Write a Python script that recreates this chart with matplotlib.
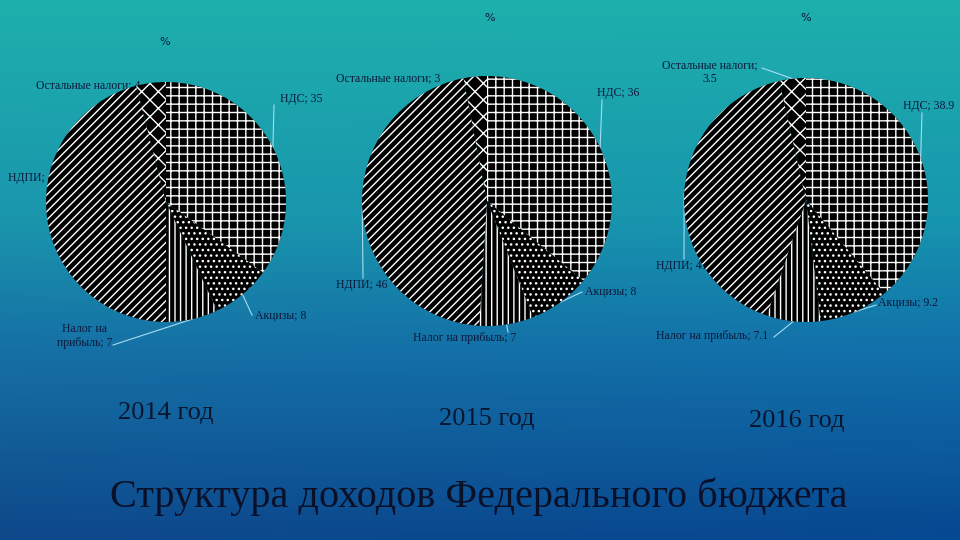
import numpy as np
import matplotlib
matplotlib.use("Agg")
import matplotlib.pyplot as plt

plt.rcParams['font.family'] = ['Liberation Serif', 'DejaVu Serif']
plt.rcParams['hatch.linewidth'] = 1.0

# data
categories = ['НДС', 'Акцизы', 'Налог на прибыль', 'НДПИ', 'Остальные налоги']
years = ['2014 год', '2015 год', '2016 год']
values_2014 = [35, 8, 7, 46, 4]
values_2015 = [36, 8, 7, 46, 3]
values_2016 = [38.9, 9.2, 7.1, 41.3, 3.5]
hatches = ['++', '...', '|||', '////', 'xx']

W, H = 960, 540
fig = plt.figure(figsize=(9.6, 5.4), dpi=100)

# background gradient, pixel coords
bg = fig.add_axes([0, 0, 1, 1])
bg.set_xlim(0, W)
bg.set_ylim(H, 0)
bg.axis('off')
yy = np.linspace(0, 1, 270)[:, None]
xx = np.linspace(0, 1, 480)[None, :]
stops = np.array([0.0, 0.4, 0.65, 1.0])
cols = np.array([[30, 176, 172], [26, 150, 172], [22, 112, 165], [14, 72, 138]]) / 255.0
img = np.zeros((270, 480, 3))
for c in range(3):
    img[:, :, c] = np.interp(yy.ravel(), stops, cols[:, c])[:, None]
img[:, :, 0] -= 0.03 * xx * yy
img[:, :, 2] += 0.03 * xx * yy
bg.imshow(np.clip(img, 0, 1), extent=[0, W, H, 0], aspect='auto', zorder=0)

label_color = '#0b1a3c'
line_color = '#a8dcef'

# pie placement (center x, center y, radius) in pixels
pies = [
    (values_2014, 166, 202, 120),
    (values_2015, 487, 201, 125),
    (values_2016, 806, 200, 122),
]

# label layout per pie: text position, alignment, leader start (or None)
layouts = [
    [('НДС; 35', 280, 99, 'left', (274, 105)),
     ('Акцизы; 8', 255, 316, 'left', (252, 315)),
     ('Налог на\nприбыль; 7', 85, 336, 'center', (113, 345)),
     ('НДПИ; 46', 8, 178, 'left', None),
     ('Остальные налоги; 4', 140, 85, 'right', None)],
    [('НДС; 36', 597, 93, 'left', (602, 100)),
     ('Акцизы; 8', 585, 292, 'left', (582, 292)),
     ('Налог на прибыль; 7', 465, 338, 'center', (508, 332)),
     ('НДПИ; 46', 336, 285, 'left', (363, 278)),
     ('Остальные налоги; 3', 440, 78, 'right', None)],
    [('НДС; 38.9', 903, 106, 'left', (922, 113)),
     ('Акцизы; 9.2', 878, 303, 'left', (876, 305)),
     ('Налог на прибыль; 7.1', 656, 336, 'left', (774, 337)),
     ('НДПИ; 41.3', 656, 266, 'left', (684, 259)),
     ('Остальные налоги;\n3.5', 710, 72, 'center', (762, 68))],
]

for (vals, cx, cy, r), lay in zip(pies, layouts):
    ax = fig.add_axes([(cx - r) / W, 1 - (cy + r) / H, 2 * r / W, 2 * r / H])
    ax.set_zorder(2)
    wedges, _ = ax.pie(vals, startangle=90, counterclock=False, radius=1,
                       colors=['black'] * len(vals),
                       wedgeprops=dict(edgecolor='white', linewidth=0))
    for w, h in zip(wedges, hatches):
        w.set_hatch(h)
    ax.set_xlim(-1, 1)
    ax.set_ylim(-1, 1)
    ax.set_aspect('auto')
    ax.axis('off')

    total = sum(vals)
    cum = np.cumsum([0] + vals[:-1])
    for v, c0, (txt, tx, ty, ha, start) in zip(vals, cum, lay):
        ang = np.radians((c0 + v / 2) / total * 360)
        ex, ey = cx + r * np.sin(ang), cy - r * np.cos(ang)
        if start is not None:
            bg.plot([start[0], ex], [start[1], ey], color=line_color, lw=0.8, zorder=1)
        bg.text(tx, ty, txt, ha=ha, va='center', fontsize=8.5, color=label_color,
                zorder=1, linespacing=1.2)

# small "%" titles
for x, y in [(165, 42), (490, 18), (806, 18)]:
    bg.text(x, y, '%', ha='center', va='center', fontsize=8, color=label_color,
            family='DejaVu Sans', zorder=1)

# years
for (x, y), yr in zip([(166, 413), (487, 419), (797, 421)], years):
    bg.text(x, y, yr, ha='center', va='center', fontsize=19, color='#0a1630', zorder=1)

bg.text(479, 497, 'Структура доходов Федерального бюджета', ha='center', va='center',
        fontsize=29, color='#0a1028', zorder=1)

fig.savefig('out.png', dpi=100)
